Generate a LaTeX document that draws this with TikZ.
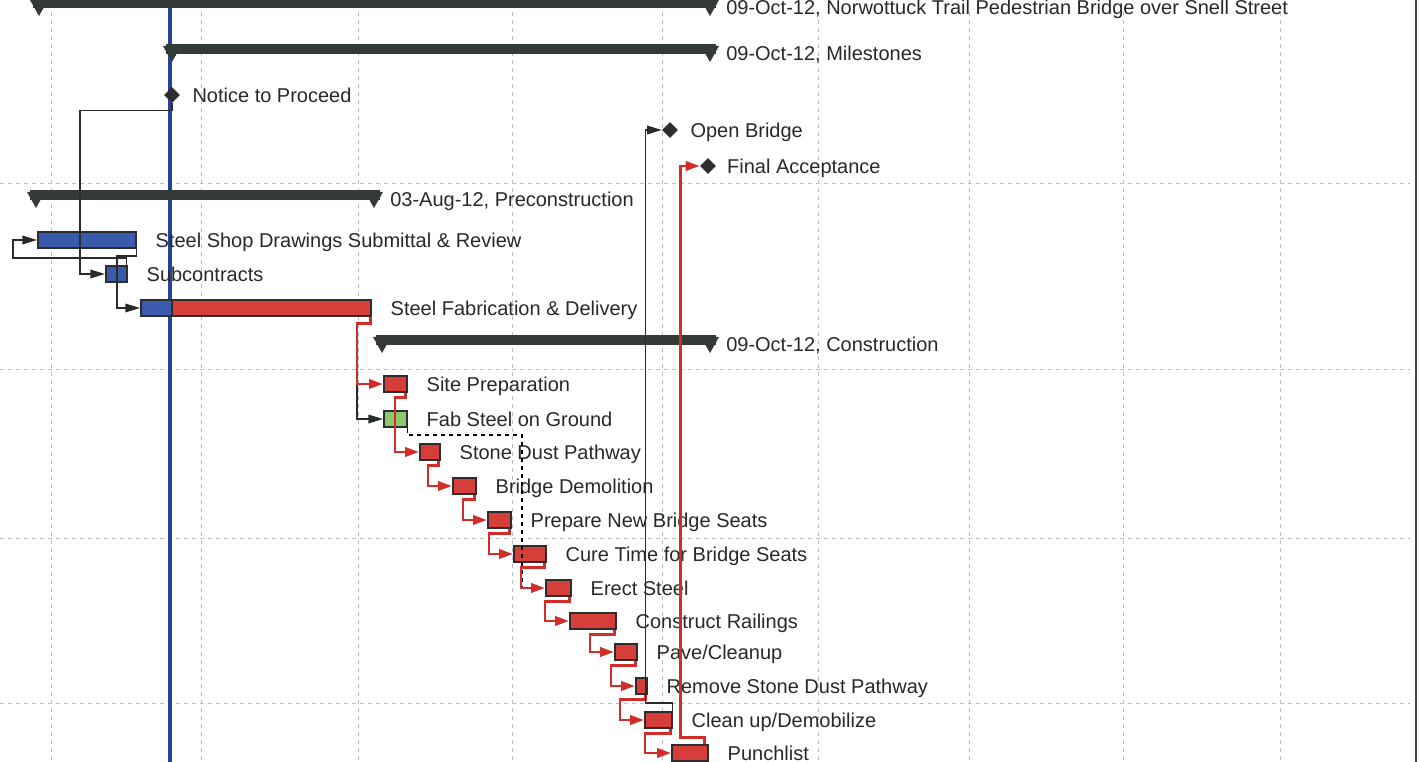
\documentclass[tikz,border=0pt]{standalone}
\usepackage{fontspec}
\setmainfont{Liberation Sans}
\usepackage{tikz}
\usetikzlibrary{positioning,calc,shapes.geometric,arrows.meta}

\definecolor{gridgray}{RGB}{190,190,190}
\definecolor{framegray}{RGB}{70,70,70}
\definecolor{datablue}{RGB}{40,65,150}
\definecolor{sumfill}{RGB}{52,58,54}
\definecolor{bardark}{RGB}{45,45,45}
\definecolor{taskblue}{RGB}{58,90,172}
\definecolor{taskred}{RGB}{214,62,58}
\definecolor{taskgreen}{RGB}{140,200,110}
\definecolor{textgray}{RGB}{40,40,40}
\definecolor{linkdark}{RGB}{40,44,42}
\definecolor{linkred}{RGB}{210,45,40}

\tikzset{
  gridline/.style={draw=gridgray, line width=0.5pt, dash pattern=on 3pt off 3pt},
  taskbar/.style={draw=bardark, line width=1.3pt, inner sep=0pt, minimum height=12pt, minimum width=#1*0.75pt, anchor=west},
  bluebar/.style={taskbar=#1, fill=taskblue},
  redbar/.style={taskbar=#1, fill=taskred},
  greenbar/.style={taskbar=#1, fill=taskgreen},
  milestone/.style={diamond, fill=bardark, inner sep=0pt, minimum size=12pt},
  tasktext/.style={inner sep=0pt, anchor=west, text=textgray, font=\fontsize{15}{18}\selectfont, text height=10.8pt, text depth=0pt},
  link/.style={draw=linkdark, line width=1.1pt, -{Triangle[length=11pt,width=6.5pt]}},
  waitlink/.style={draw=black, line width=1.1pt, dash pattern=on 3.5pt off 2.5pt},
  critlink/.style={draw=linkred, line width=2.1pt, -{Triangle[length=10.5pt,width=7pt]}}
}

% summary bar: left, right, top, name, text
\newcommand{\sumbar}[5]{%
  \fill[sumfill] (#1,#3) rectangle (#2,#3+10);
  \fill[sumfill] (#1-3,#3+2) -- (#1+15,#3+2) -- (#1+6,#3+18) -- cycle;
  \fill[sumfill] (#2-15,#3+2) -- (#2+3,#3+2) -- (#2-6,#3+18) -- cycle;
  \node[tasktext] (#4) at (#2+10,#3+9) {#5};
}

\begin{document}
\begin{tikzpicture}[x=0.75pt,y=0.75pt,yscale=-1,xscale=1]
\useasboundingbox (0,0) rectangle (1421,762);

%Grid
\foreach \gx in {51,201,358,512,662,818,969,1123,1280}
  \draw[gridline] (\gx,12) -- (\gx,762);
\foreach \gy in {183,369,538,703}
  \draw[gridline] (0,\gy) -- (1410,\gy);
%Frame at right
\draw[line width=1.8pt, framegray] (1416,0) -- (1416,762);
%Data date
\draw[line width=2.4pt, datablue] (170,0) -- (170,762);

%Summary bars
\sumbar{33}{716}{-2}{proj}{09-Oct-12, Norwottuck Trail Pedestrian Bridge over Snell Street}
\sumbar{166}{716}{44}{miles}{09-Oct-12, Milestones}
\sumbar{30}{380}{190}{precon}{03-Aug-12, Preconstruction}
\sumbar{376}{716}{335}{constr}{09-Oct-12, Construction}

%Milestones
\node[milestone] (ntp) at (172,95) {};
\node[tasktext, right=9pt of ntp] (ntplbl) {Notice to Proceed};
\node[milestone] (ob) at (670,130) {};
\node[tasktext, right=9pt of ob] (oblbl) {Open Bridge};
\node[milestone] (fa) at (708,166) {};
\node[tasktext, right=8pt of fa] (falbl) {Final Acceptance};

%Task bars
\node[bluebar=98] (ssd) at (37,240) {};
\node[tasktext, right=14pt of ssd] (ssdlbl) {Steel Shop Drawings Submittal \& Review};
\node[bluebar=21] (sub) at (105,274) {};
\node[tasktext, right=14pt of sub] (sublbl) {Subcontracts};
\node[bluebar=31] (fabA) at (140,308) {};
\node[redbar=199] (fabB) at (171,308) {};
\node[tasktext, right=14pt of fabB] (fablbl) {Steel Fabrication \& Delivery};
\node[redbar=23] (sp) at (383,384) {};
\node[tasktext, right=14pt of sp] (splbl) {Site Preparation};
\node[greenbar=23] (fsg) at (383,419) {};
\node[tasktext, right=14pt of fsg] (fsglbl) {Fab Steel on Ground};
\node[redbar=20] (sdp) at (419,452) {};
\node[tasktext, right=14pt of sdp] (sdplbl) {Stone Dust Pathway};
\node[redbar=23] (bd) at (452,486) {};
\node[tasktext, right=14pt of bd] (bdlbl) {Bridge Demolition};
\node[redbar=23] (pnb) at (487,520) {};
\node[tasktext, right=14pt of pnb] (pnblbl) {Prepare New Bridge Seats};
\node[redbar=32] (ct) at (513,554) {};
\node[tasktext, right=14pt of ct] (ctlbl) {Cure Time for Bridge Seats};
\node[redbar=25] (es) at (545,588) {};
\node[tasktext, right=14pt of es] (eslbl) {Erect Steel};
\node[redbar=46] (cr) at (569,621) {};
\node[tasktext, right=14pt of cr] (crlbl) {Construct Railings};
\node[redbar=22] (pc) at (614,652) {};
\node[tasktext, right=14pt of pc] (pclbl) {Pave/Cleanup};
\node[redbar=11] (rsd) at (635,686) {};
\node[tasktext, right=14pt of rsd] (rsdlbl) {Remove Stone Dust Pathway};
\node[redbar=27] (cu) at (644,720) {};
\node[tasktext, right=14pt of cu] (culbl) {Clean up/Demobilize};
\node[redbar=36] (pl) at (671,753) {};
\node[tasktext, right=14pt of pl] (pllbl) {Punchlist};

%Links, preconstruction
\draw[link] (ntp.south) -- ++(0,7) -| ($(sub.west)+(-25,0)$) -- (sub.west);
\draw[link] (ssd.south east) -- ++(0,7) -| ($(fabA.west)+(-23,0)$) -- (fabA.west);
\draw[link] ([xshift=-0.8pt]sub.north east) -- ++(0,-7) -| ($(ssd.west)+(-24,0)$) -- (ssd.west);
\draw[link] ([xshift=-1pt]fabB.south east) -- ++(0,7) -| ($(fsg.west)+(-26,0)$) -- (fsg.west);
\draw[waitlink] (fsg.south east) -- ++(0,7) -| ($(es.west)+(-23,0)$);

%Links, critical path
\draw[critlink] ([xshift=-1pt]fabB.south east) -- ++(0,7) -| ($(sp.west)+(-26,0)$) -- (sp.west);
\draw[critlink] ([xshift=-1.5pt]sp.south east) -- ++(0,5) -| ($(sdp.west)+(-24,0)$) -- (sdp.west);
\draw[critlink] ([xshift=-1.5pt]sdp.south east) -- ++(0,5) -| ($(bd.west)+(-24,0)$) -- (bd.west);
\draw[critlink] ([xshift=-1.5pt]bd.south east) -- ++(0,5) -| ($(pnb.west)+(-24,0)$) -- (pnb.west);
\draw[critlink] ([xshift=-1.5pt]pnb.south east) -- ++(0,5) -| ($(ct.west)+(-24,0)$) -- (ct.west);
\draw[critlink] ([xshift=-1.5pt]ct.south east) -- ++(0,5) -| ($(es.west)+(-24,0)$) -- (es.west);
\draw[critlink] ([xshift=-1.5pt]es.south east) -- ++(0,5) -| ($(cr.west)+(-24,0)$) -- (cr.west);
\draw[critlink] ([xshift=-1.5pt]cr.south east) -- ++(0,5) -| ($(pc.west)+(-24,0)$) -- (pc.west);
\draw[critlink] ([xshift=-1.5pt]pc.south east) -- ++(0,5) -| ($(rsd.west)+(-24,0)$) -- (rsd.west);
\draw[critlink] ([xshift=-1.5pt]rsd.south east) -- ++(0,5) -| ($(cu.west)+(-24,0)$) -- (cu.west);
\draw[critlink] ([xshift=-1.5pt]cu.south east) -- ++(0,5) -| ($(pl.west)+(-26,0)$) -- (pl.west);

%Links to milestones
\draw[link] (cu.north east) -- ++(0,-8) -| ($(ob.west)+(-16,0)$) -- (ob.west);
\draw[critlink] ([xshift=-3pt]pl.north east) -- ++(0,-7) -| ($(fa.west)+(-19,0)$) -- (fa.west);

\end{tikzpicture}
\end{document}
